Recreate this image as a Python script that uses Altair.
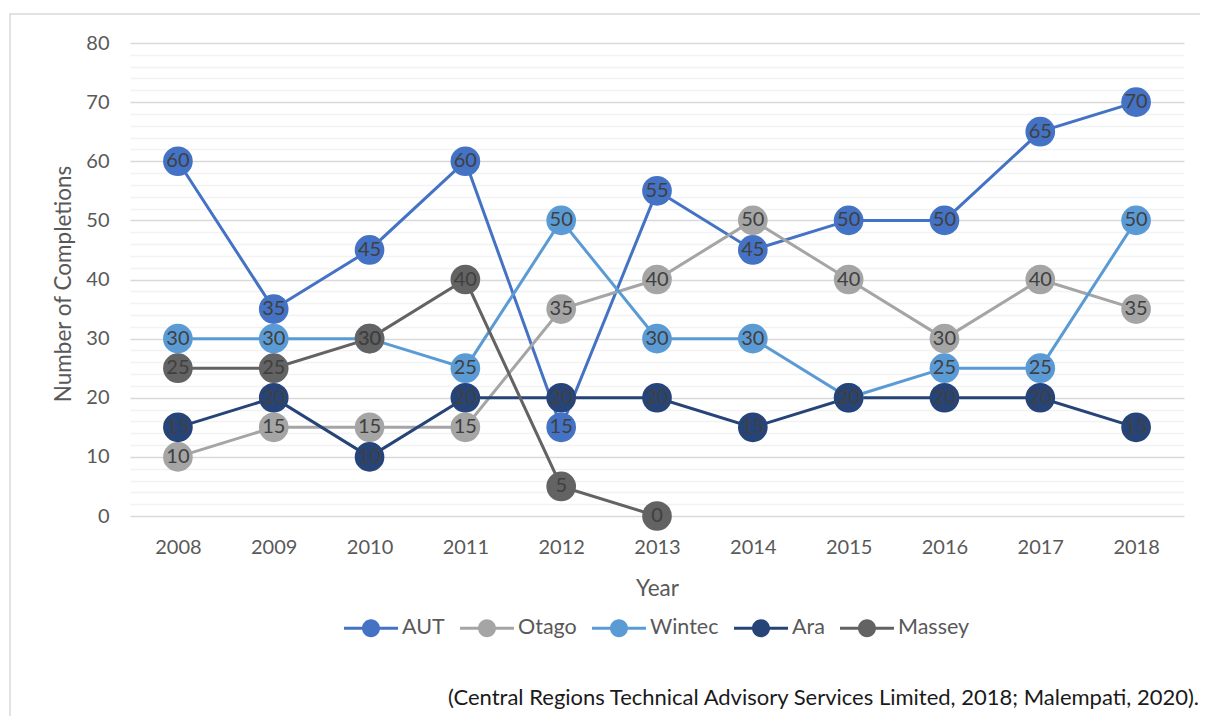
import altair as alt
import pandas as pd

years = ["2008", "2009", "2010", "2011", "2012", "2013", "2014", "2015", "2016", "2017", "2018"]
series_names = ["AUT", "Otago", "Wintec", "Ara", "Massey"]
series_colors = ["#4472C4", "#A5A5A5", "#5B9BD5", "#264478", "#636363"]

aut = [60, 35, 45, 60, 15, 55, 45, 50, 50, 65, 70]
otago = [10, 15, 15, 15, 35, 40, 50, 40, 30, 40, 35]
wintec = [30, 30, 30, 25, 50, 30, 30, 20, 25, 25, 50]
ara = [15, 20, 10, 20, 20, 20, 15, 20, 20, 20, 15]
massey = [25, 25, 30, 40, 5, 0, None, None, None, None, None]

source_note = "(Central Regions Technical Advisory Services Limited, 2018; Malempati, 2020)."

rows = []
for name, vals in zip(series_names, [aut, otago, wintec, ara, massey]):
    for y, v in zip(years, vals):
        if v is not None:
            rows.append({"Series": name, "Year": y, "Value": v})
df = pd.DataFrame(rows)

W, H = 1054, 473
FONT = "Lato"
TXT = "#595959"
grid_vals = list(range(0, 81, 2))

x_enc = alt.X("Year:O", scale=alt.Scale(domain=years, padding=0.5),
              axis=alt.Axis(title="Year", labelAngle=0, ticks=False, domain=False,
                            grid=False, labelPadding=21, labelFontSize=20,
                            labelColor=TXT, labelFont=FONT,
                            titleFontSize=22.5, titleColor=TXT, titleFont=FONT,
                            titleFontWeight="normal", titleY=72, titleBaseline="middle"))
y_enc = alt.Y("Value:Q", scale=alt.Scale(domain=[0, 80], nice=False),
              axis=alt.Axis(title="Number of Completions", values=grid_vals,
                            labelExpr="datum.value % 10 === 0 ? datum.label : ''",
                            ticks=False, domain=False, labelPadding=21,
                            labelFontSize=20, labelColor=TXT, labelFont=FONT,
                            gridColor=alt.condition("datum.value % 10 === 0",
                                                    alt.value("#d9d9d9"), alt.value("#f2f2f2")),
                            gridWidth=1.3,
                            titleFontSize=22.5, titleColor=TXT, titleFont=FONT,
                            titleFontWeight="normal", titleX=-67, titleY=H / 2 + 4,
                            titleBaseline="middle", titleAlign="center"))

fill_scale = alt.Scale(domain=series_names, range=series_colors)

legend_path = ("M-1,-0.056L1,-0.056L1,0.056L-1,0.056Z "
               "M0.333,0A0.333,0.333,0,1,1,-0.333,0A0.333,0.333,0,1,1,0.333,0Z")
legend = alt.Legend(title=None, orient="none", direction="horizontal",
                    legendX=214, legendY=558)

base = alt.Chart(df)
layers = []

frame = alt.Chart(pd.DataFrame({"k": [0]})).mark_rect(
    fill=None, stroke="#d9d9d9", strokeWidth=1.5).encode(
    x=alt.value(-120), x2=alt.value(W + 100), y=alt.value(-29), y2=alt.value(H + 300))
layers.append(frame)

for name, col in zip(series_names, series_colors):
    sub = base.transform_filter(alt.datum.Series == name)
    line = sub.mark_line(strokeWidth=3, color=col).encode(x=x_enc, y=y_enc)
    layers.append(line)

pts = base.mark_circle(size=880, opacity=1).encode(
    x=x_enc, y=y_enc,
    fill=alt.Fill("Series:N", scale=fill_scale, legend=legend, sort=series_names))
layers.append(pts)

labels = base.mark_text(fontSize=20, color="#404040", font=FONT, baseline="middle").encode(
    x=x_enc, y=y_enc, text=alt.Text("Value:Q"))
layers.append(labels)

note = alt.Chart(pd.DataFrame({"t": [source_note]})).mark_text(
    align="right", baseline="middle", fontSize=22, color="#1a1a1a", font=FONT).encode(
    x=alt.value(1069), y=alt.value(655), text="t:N")
layers.append(note)

chart = alt.layer(*layers).properties(
    width=W, height=H,
    autosize=alt.AutoSizeParams(type="none"),
    padding={"left": 122, "top": 35, "right": 16, "bottom": 200},
).configure_view(stroke=None).configure_legend(
    orient="none", legendX=214, legendY=558, direction="horizontal",
    symbolType=legend_path, symbolSize=2916, symbolStrokeWidth=0,
    labelFontSize=21.5, labelColor=TXT, labelFont=FONT, labelOffset=4,
    columnPadding=15, symbolOpacity=1,
)

chart.save("out.html", embed_options={"renderer": "svg", "actions": False})
